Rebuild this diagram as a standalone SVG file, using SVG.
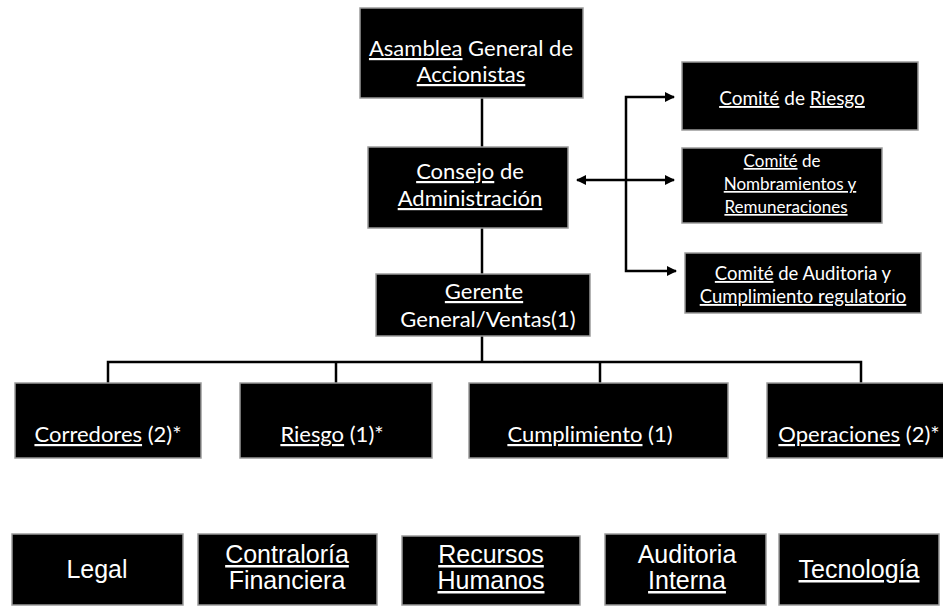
<svg xmlns="http://www.w3.org/2000/svg" width="943" height="609" viewBox="0 0 943 609">
<defs>
<style>
.box{fill:#000;stroke:#9a9a9a;stroke-width:1.5}
.t{fill:#fff;font-family:Lato,"Open Sans","Liberation Sans",sans-serif;text-anchor:middle}
.a{fill:#fff;font-family:"Liberation Sans",Arial,sans-serif;text-anchor:middle;font-size:25px}
.u{text-decoration:underline}
.ln{stroke:#000;stroke-width:2.5;fill:none}
</style>
<marker id="ah" viewBox="0 0 10 10" refX="9" refY="5" markerWidth="4" markerHeight="4" orient="auto-start-reverse">
<path d="M0,0 L10,5 L0,10 Z" fill="#000"/>
</marker>
</defs>
<rect width="943" height="609" fill="#fff"/>
<g id="connectors">
<line class="ln" x1="482" y1="98" x2="482" y2="147"/>
<line class="ln" x1="482" y1="228" x2="482" y2="274"/>
<line class="ln" x1="577" y1="180" x2="674" y2="180" marker-start="url(#ah)" marker-end="url(#ah)"/>
<polyline class="ln" points="674,97 626,97 626,271 676,271" marker-start="url(#ah)" marker-end="url(#ah)"/>
<line class="ln" x1="482" y1="336" x2="482" y2="362"/>
<polyline class="ln" points="108,383 108,362 861,362 861,383"/>
<line class="ln" x1="336" y1="362" x2="336" y2="383"/>
<line class="ln" x1="600" y1="362" x2="600" y2="383"/>
</g>
<g id="asamblea"><rect class="box" x="360" y="8" width="223" height="90"/>
<text class="t" font-size="22" x="471" y="56"><tspan class="u">Asamblea</tspan> General de</text>
<text class="t u" font-size="22" x="471" y="82">Accionistas</text></g>
<g id="consejo"><rect class="box" x="368" y="147" width="200" height="81"/>
<text class="t" font-size="22" x="470" y="179"><tspan class="u">Consejo</tspan> de</text>
<text class="t u" font-size="22" x="470" y="206">Administración</text></g>
<g id="gerente"><rect class="box" x="376" y="274" width="214" height="62"/>
<text class="t u" font-size="22" x="484" y="299">Gerente</text>
<text class="t" font-size="22" x="488" y="327">General/Ventas(1)</text></g>
<g id="comite-riesgo"><rect class="box" x="682" y="62" width="236" height="68"/>
<text class="t" font-size="19" x="792" y="105"><tspan class="u">Comité</tspan> de <tspan class="u">Riesgo</tspan></text></g>
<g id="comite-nombramientos"><rect class="box" x="682" y="148" width="200" height="75"/>
<text class="t" font-size="17" x="782" y="167"><tspan class="u">Comité</tspan> de</text>
<text class="t u" font-size="17" x="790" y="190">Nombramientos y</text>
<text class="t u" font-size="17" x="786" y="213">Remuneraciones</text></g>
<g id="comite-auditoria"><rect class="box" x="685" y="253" width="236" height="60"/>
<text class="t" font-size="18.5" x="803" y="280"><tspan class="u">Comité</tspan> de Auditoria y</text>
<text class="t u" font-size="18.5" x="803" y="303">Cumplimiento regulatorio</text></g>
<g id="corredores"><rect class="box" x="15" y="383" width="186" height="75"/>
<text class="t" font-size="22" x="108" y="442"><tspan class="u">Corredores</tspan> (2)*</text></g>
<g id="riesgo"><rect class="box" x="240" y="383" width="192" height="75"/>
<text class="t" font-size="22" x="332" y="442"><tspan class="u">Riesgo</tspan> (1)*</text></g>
<g id="cumplimiento"><rect class="box" x="469" y="383" width="259" height="75"/>
<text class="t" font-size="22" x="590" y="442"><tspan class="u">Cumplimiento</tspan> (1)</text></g>
<g id="operaciones"><rect class="box" x="767" y="383" width="180" height="75"/>
<text class="t" font-size="22" x="859" y="442"><tspan class="u">Operaciones</tspan> (2)*</text></g>
<g id="legal"><rect class="box" x="12" y="534" width="171" height="71"/>
<text class="a" x="97" y="578">Legal</text></g>
<g id="contraloria"><rect class="box" x="198" y="534" width="179" height="71"/>
<text class="a u" x="287" y="563">Contraloría</text>
<text class="a" x="287" y="589">Financiera</text></g>
<g id="recursos"><rect class="box" x="402" y="536" width="178" height="69"/>
<text class="a u" x="491" y="563">Recursos</text>
<text class="a u" x="491" y="589">Humanos</text></g>
<g id="auditoria"><rect class="box" x="605" y="534" width="161" height="71"/>
<text class="a" x="687" y="563">Auditoria</text>
<text class="a u" x="687" y="589">Interna</text></g>
<g id="tecnologia"><rect class="box" x="779" y="534" width="160" height="71"/>
<text class="a u" x="859" y="578">Tecnología</text></g>
</svg>
